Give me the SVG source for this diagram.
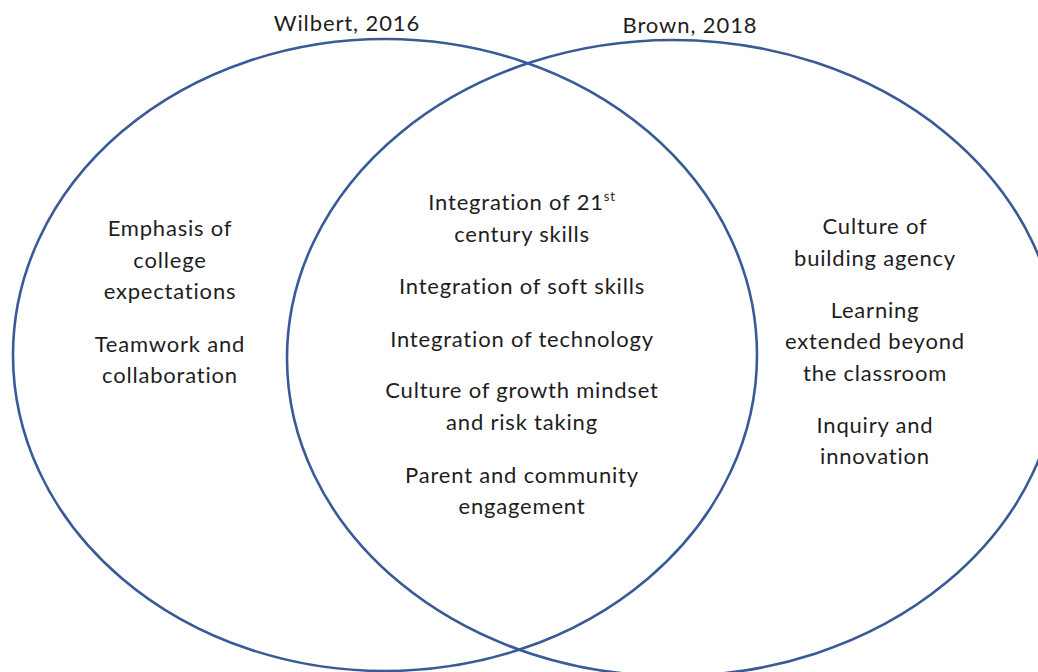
<svg xmlns="http://www.w3.org/2000/svg" width="1038" height="672" viewBox="0 0 1038 672">
  <style>
    .set { fill: none; stroke: #3a5a97; stroke-width: 2.6; }
    .lbl { font-family: Lato, "Open Sans", "Liberation Sans", sans-serif; font-size: 22px; letter-spacing: 0.8px; fill: #1e1e1e; text-anchor: middle; }
    .ttl { font-family: Lato, "Open Sans", "Liberation Sans", sans-serif; font-size: 22px; letter-spacing: 0.9px; fill: #1e1e1e; text-anchor: middle; }
  </style>
  <rect width="1038" height="672" fill="#ffffff"/>

  <!-- the two overlapping sets -->
  <g id="set-wilbert">
    <ellipse class="set" cx="385" cy="355" rx="372" ry="316"/>
    <text class="ttl" x="347" y="31">Wilbert, 2016</text>
  </g>
  <g id="set-brown">
    <ellipse class="set" cx="673" cy="358" rx="386" ry="318"/>
    <text class="ttl" x="690" y="33">Brown, 2018</text>
  </g>

  <!-- items only in Wilbert, 2016 -->
  <g id="only-wilbert">
    <text class="lbl" x="170" y="236">Emphasis of</text>
    <text class="lbl" x="170" y="268">college</text>
    <text class="lbl" x="170" y="299">expectations</text>
    <text class="lbl" x="170" y="352">Teamwork and</text>
    <text class="lbl" x="170" y="383">collaboration</text>
  </g>

  <!-- shared items -->
  <g id="shared">
    <text class="lbl" x="522" y="210">Integration of 21<tspan dy="-9" font-size="13">st</tspan></text>
    <text class="lbl" x="522" y="242">century skills</text>
    <text class="lbl" x="522" y="294">Integration of soft skills</text>
    <text class="lbl" x="522" y="347">Integration of technology</text>
    <text class="lbl" x="522" y="398">Culture of growth mindset</text>
    <text class="lbl" x="522" y="430">and risk taking</text>
    <text class="lbl" x="522" y="483">Parent and community</text>
    <text class="lbl" x="522" y="514">engagement</text>
  </g>

  <!-- items only in Brown, 2018 -->
  <g id="only-brown">
    <text class="lbl" x="875" y="234">Culture of</text>
    <text class="lbl" x="875" y="266">building agency</text>
    <text class="lbl" x="875" y="318">Learning</text>
    <text class="lbl" x="875" y="349">extended beyond</text>
    <text class="lbl" x="875" y="381">the classroom</text>
    <text class="lbl" x="875" y="433">Inquiry and</text>
    <text class="lbl" x="875" y="464">innovation</text>
  </g>
</svg>
